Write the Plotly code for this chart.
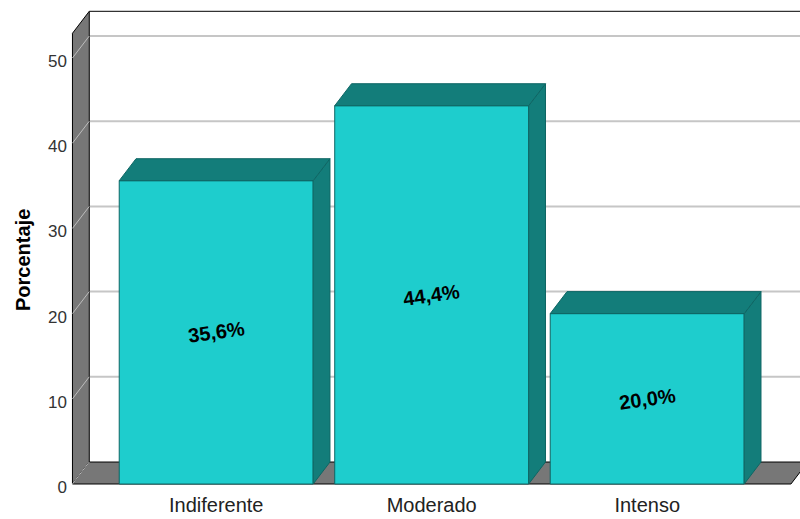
import plotly.graph_objects as go

# Data
categories = ["Indiferente", "Moderado", "Intenso"]
percentages = [35.6, 44.4, 20.0]
y_ticks = [0, 10, 20, 30, 40, 50]

# 3-D look: depth offset of the back plane and frame extents (data units)
BAR_WIDTH = 0.9
DEPTH_X = 0.078
DEPTH_Y = 2.58
WALL_LEFT = -0.667
WALL_RIGHT = 2.667
WALL_TOP = 52.9
X_RANGE = [-0.7248, 2.709]
Y_RANGE = [-0.587, 56.808]

FRONT = "#1ecdcd"
SHADE = "#137d7a"
EDGE = "#0e6664"
WALL = "#777777"
GRID = "#c6c6c6"

fig = go.Figure()

# front faces of the bars
fig.add_trace(go.Bar(
    x=list(range(len(categories))), y=percentages, width=BAR_WIDTH,
    marker=dict(color=FRONT, line=dict(color=EDGE, width=1)),
    hoverinfo="skip",
))

# top and right-side faces
for i, v in enumerate(percentages):
    l, r = i - BAR_WIDTH / 2, i + BAR_WIDTH / 2
    fig.add_trace(go.Scatter(
        x=[r, r + DEPTH_X, r + DEPTH_X, r, r],
        y=[0, DEPTH_Y, v + DEPTH_Y, v, 0],
        fill="toself", fillcolor=SHADE, mode="lines",
        line=dict(color=EDGE, width=1), hoverinfo="skip",
    ))
    fig.add_trace(go.Scatter(
        x=[l, r, r + DEPTH_X, l + DEPTH_X, l],
        y=[v, v, v + DEPTH_Y, v + DEPTH_Y, v],
        fill="toself", fillcolor=SHADE, mode="lines",
        line=dict(color=EDGE, width=1), hoverinfo="skip",
    ))

# value labels on the front faces
for i, v in enumerate(percentages):
    fig.add_annotation(
        x=i, y=v / 2, xref="x", yref="y",
        text="<b>" + f"{v:.1f}%".replace(".", ",") + "</b>",
        showarrow=False, textangle=-8,
        font=dict(family="Liberation Sans, Arial", size=20, color="#000000"),
    )

# chart frame: back-wall gridlines, left wall, floor
shapes = []
bx = WALL_LEFT + DEPTH_X
far = X_RANGE[1] + 1
for t in y_ticks[1:]:
    shapes.append(dict(type="line", xref="x", yref="y", layer="below",
                       x0=bx, x1=far, y0=t + DEPTH_Y, y1=t + DEPTH_Y,
                       line=dict(color=GRID, width=2)))
shapes.append(dict(type="line", xref="x", yref="y", layer="below",
                   x0=bx, x1=far, y0=WALL_TOP + DEPTH_Y, y1=WALL_TOP + DEPTH_Y,
                   line=dict(color="#000000", width=1)))
shapes.append(dict(
    type="path", xref="x", yref="y", layer="below",
    path=(f"M {WALL_LEFT},0 L {bx},{DEPTH_Y} L {bx},{WALL_TOP + DEPTH_Y} "
          f"L {WALL_LEFT},{WALL_TOP} Z"),
    fillcolor=WALL, line=dict(color="#000000", width=1)))
shapes.append(dict(
    type="path", xref="x", yref="y", layer="below",
    path=(f"M {WALL_LEFT},0 L {WALL_RIGHT},0 L {WALL_RIGHT + DEPTH_X},{DEPTH_Y} "
          f"L {bx},{DEPTH_Y} Z"),
    fillcolor=WALL, line=dict(color="#000000", width=1)))
for t in y_ticks:
    shapes.append(dict(type="line", xref="x", yref="y", layer="below",
                       x0=WALL_LEFT, x1=bx, y0=t, y1=t + DEPTH_Y,
                       line=dict(color="#bdbdbd", width=1)))

fig.update_layout(
    width=800, height=519,
    margin=dict(l=60, r=0, t=0, b=30),
    plot_bgcolor="#ffffff", paper_bgcolor="#ffffff",
    showlegend=False, shapes=shapes,
    xaxis=dict(
        range=X_RANGE, tickvals=list(range(len(categories))), ticktext=categories,
        showgrid=False, zeroline=False, showline=False, ticks="",
        tickfont=dict(family="Liberation Sans, Arial", size=20, color="#222222"),
        ticklabelstandoff=2,
        fixedrange=True,
    ),
    yaxis=dict(
        range=Y_RANGE, tickvals=y_ticks, ticktext=[str(t) for t in y_ticks],
        showgrid=False, zeroline=False, showline=False, ticks="",
        tickfont=dict(family="Liberation Sans, Arial", size=17, color="#333333"),
        ticklabelstandoff=-8, ticklabelshift=3,
        fixedrange=True,
    ),
)

fig.add_annotation(
    xref="paper", yref="paper", x=(23 - 60) / 740, y=1 - 260 / 489,
    text="<b>Porcentaje</b>", textangle=-90, showarrow=False,
    xanchor="center", yanchor="middle",
    font=dict(family="Liberation Sans, Arial", size=20, color="#000000"),
)

fig.write_html("out.html")
